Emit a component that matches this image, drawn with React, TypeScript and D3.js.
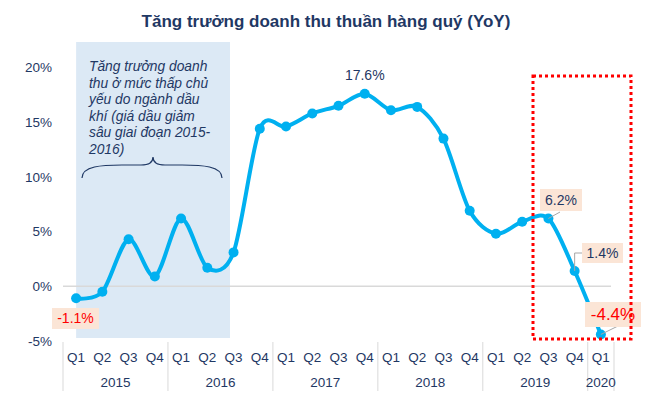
import React from "react";
import * as d3 from "d3";

const quarters = ["Q1","Q2","Q3","Q4","Q1","Q2","Q3","Q4","Q1","Q2","Q3","Q4","Q1","Q2","Q3","Q4","Q1","Q2","Q3","Q4","Q1"];
const years = ["2015","2016","2017","2018","2019","2020"];
const yearQuarterCounts = [4,4,4,4,4,1];
const growth = [-1.1,-0.5,4.3,0.9,6.2,1.7,3.1,14.4,14.6,15.8,16.5,17.6,16.1,16.4,13.5,6.9,4.8,5.9,6.2,1.4,-4.4];
const yTicks = [-5,0,5,10,15,20];
const noteLines = ["Tăng trưởng doanh","thu ở mức thấp chủ","yếu do ngành dầu","khí (giá dầu giảm","sâu giai đoạn 2015-","2016)"];
const title = "Tăng trưởng doanh thu thuần hàng quý (YoY)";

const NAVY = "#1f3864";
const BLUE = "#00b0f0";
const PEACH = "#fbe5d6";
const RED = "#ff0000";
const GRID = "#d9d9d9";
const FONT = "'Liberation Sans', Arial, sans-serif";

export default function App() {
  const idx = d3.range(growth.length);
  const x = d3.scaleBand<number>().domain(idx).range([63, 614]).padding(0);
  const xc = (i: number) => (x(i) as number) + x.bandwidth() / 2;
  const y = d3.scaleLinear().domain([-5, 20]).range([341, 67.5]);

  const line = d3
    .line<number>()
    .x((_, i) => xc(i))
    .y((d) => y(d))
    .curve(d3.curveCardinal.tension(0.1));

  const boundaries: number[] = [0];
  let acc = 0;
  yearQuarterCounts.forEach((c) => {
    acc += c;
    boundaries.push(acc);
  });
  const bx = (k: number) => (k >= growth.length ? (x(growth.length - 1) as number) + x.bandwidth() : (x(k) as number));

  const iMax = 11;
  const iFirst = 0;
  const iQ3_19 = 18;
  const iQ4_19 = 19;
  const iLast = 20;

  const braceL = 82, braceR = 222, braceTip = 153, braceY = 178, braceTop = 157;
  const bracePath = `M${braceL},${braceY} C${braceL},${braceY - 12} ${braceL + 20},${braceY - 13} ${braceL + 40},${braceY - 13}
    L${braceTip - 12},${braceY - 13} C${braceTip - 4},${braceY - 13} ${braceTip},${braceY - 16} ${braceTip},${braceTop}
    C${braceTip},${braceY - 16} ${braceTip + 4},${braceY - 13} ${braceTip + 12},${braceY - 13}
    L${braceR - 40},${braceY - 13} C${braceR - 20},${braceY - 13} ${braceR},${braceY - 12} ${braceR},${braceY}`;

  return (
    <svg width={650} height={402} style={{ position: "absolute", left: 0, top: 0, background: "#fff" }} fontFamily={FONT}>
      <rect x={0} y={0} width={650} height={402} fill="#fff" />
      <text x={326} y={27} textAnchor="middle" fontWeight="bold" fontSize={17} fill={NAVY}>{title}</text>

      <rect x={xc(0)} y={42} width={230 - xc(0)} height={338 - 42} fill="#dce9f5" />

      {noteLines.map((t, i) => (
        <text key={i} x={89} y={71 + i * 16.6} fontSize={13.8} fontStyle="italic" fill={NAVY}>{t}</text>
      ))}
      <path d={bracePath} fill="none" stroke={NAVY} strokeWidth={1.2} />

      {yTicks.map((t) => (
        <text key={t} x={52} y={y(t)} dy="0.35em" textAnchor="end" fontSize={13.5} fill={NAVY}>{t}%</text>
      ))}

      <line x1={63} x2={611} y1={y(0)} y2={y(0)} stroke={GRID} strokeWidth={1.5} />

      {boundaries.map((k, i) => (
        <line key={i} x1={bx(k)} x2={bx(k)} y1={342} y2={391} stroke={GRID} strokeWidth={1} />
      ))}
      {quarters.map((q, i) => (
        <text key={i} x={xc(i)} y={357} dy="0.35em" textAnchor="middle" fontSize={13.5} fill={NAVY}>{q}</text>
      ))}
      {years.map((yr, i) => (
        <text key={yr} x={(bx(boundaries[i]) + bx(boundaries[i + 1])) / 2} y={382} dy="0.35em" textAnchor="middle" fontSize={13.5} fill={NAVY}>{yr}</text>
      ))}

      <path d={line(growth) || ""} fill="none" stroke={BLUE} strokeWidth={4} strokeLinejoin="round" strokeLinecap="round" />
      {growth.map((v, i) => (
        <circle key={i} cx={xc(i)} cy={y(v)} r={5} fill={BLUE} />
      ))}

      <line x1={560} y1={212} x2={xc(iQ3_19)} y2={y(growth[iQ3_19])} stroke="#a6a6a6" strokeWidth={1} />
      <polyline points={`582,253 ${xc(iQ4_19)},253 ${xc(iQ4_19)},${y(growth[iQ4_19])}`} fill="none" stroke="#a6a6a6" strokeWidth={1} />
      <line x1={618} y1={326} x2={xc(iLast)} y2={y(growth[iLast])} stroke="#a6a6a6" strokeWidth={1} />

      <text x={xc(iMax)} y={75} dy="0.35em" textAnchor="middle" fontSize={14} fill={NAVY}>{growth[iMax].toFixed(1)}%</text>

      <rect x={52} y={308} width={47} height={21} fill={PEACH} />
      <text x={75.5} y={318.5} dy="0.35em" textAnchor="middle" fontSize={14} fill={RED}>{growth[iFirst].toFixed(1)}%</text>

      <rect x={540} y={189} width={42} height={22} fill={PEACH} />
      <text x={561} y={200} dy="0.35em" textAnchor="middle" fontSize={14} fill={NAVY}>{growth[iQ3_19].toFixed(1)}%</text>

      <rect x={582} y={243} width={41} height={20} fill={PEACH} />
      <text x={602.5} y={253} dy="0.35em" textAnchor="middle" fontSize={14} fill={NAVY}>{growth[iQ4_19].toFixed(1)}%</text>

      <rect x={585} y={302} width={56} height={25} fill={PEACH} />
      <text x={613} y={314.5} dy="0.35em" textAnchor="middle" fontSize={17} fill={RED}>{growth[iLast].toFixed(1)}%</text>

      <rect x={533} y={76} width={98} height={263} fill="none" stroke={RED} strokeWidth={3} strokeDasharray="3,3" />
    </svg>
  );
}
